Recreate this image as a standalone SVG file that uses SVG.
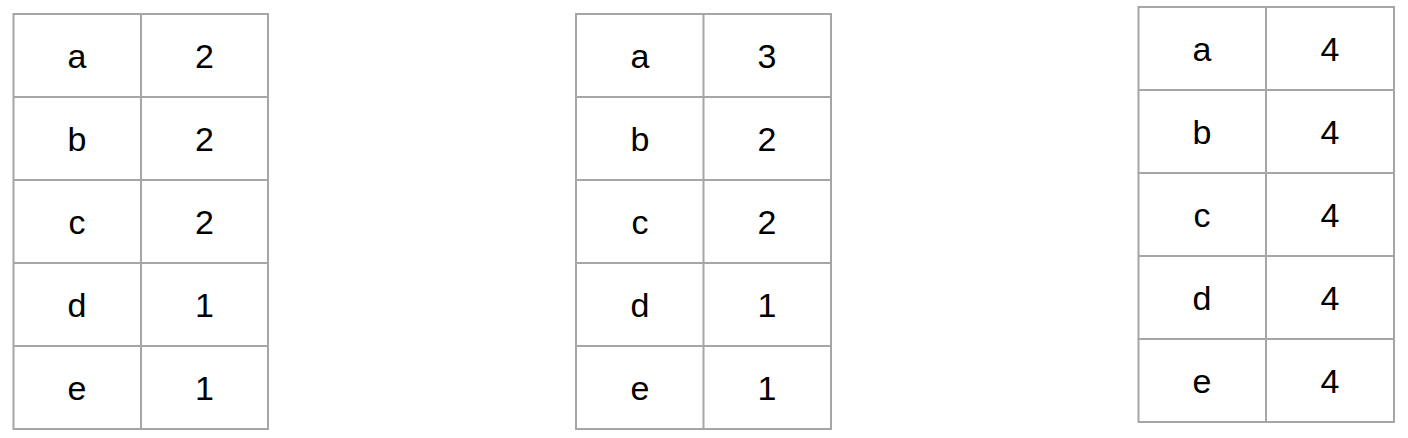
<svg xmlns="http://www.w3.org/2000/svg" width="1408" height="438" viewBox="0 0 1408 438">
<style>
.g{fill:#ffffff;stroke:#a6a6a6;stroke-width:2}
.l{stroke:#a6a6a6;stroke-width:2}
text{font-family:"Liberation Sans",Arial,sans-serif;font-size:34px;fill:#000000;text-anchor:middle}
</style>
<rect width="1408" height="438" fill="#ffffff"/>
<g id="table1">
<rect class="g" x="13.5" y="14" width="254.5" height="415"/>
<line class="l" x1="141" y1="14" x2="141" y2="429"/>
<line class="l" x1="13.5" y1="97" x2="268" y2="97"/>
<line class="l" x1="13.5" y1="180" x2="268" y2="180"/>
<line class="l" x1="13.5" y1="263" x2="268" y2="263"/>
<line class="l" x1="13.5" y1="346" x2="268" y2="346"/>
<text x="77" y="68">a</text><text x="204.5" y="68">2</text>
<text x="77" y="151">b</text><text x="204.5" y="151">2</text>
<text x="77" y="234">c</text><text x="204.5" y="234">2</text>
<text x="77" y="317">d</text><text x="204.5" y="317">1</text>
<text x="77" y="400">e</text><text x="204.5" y="400">1</text>
</g>
<g id="table2">
<rect class="g" x="576" y="14" width="255" height="415"/>
<line class="l" x1="703.5" y1="14" x2="703.5" y2="429"/>
<line class="l" x1="576" y1="97" x2="831" y2="97"/>
<line class="l" x1="576" y1="180" x2="831" y2="180"/>
<line class="l" x1="576" y1="263" x2="831" y2="263"/>
<line class="l" x1="576" y1="346" x2="831" y2="346"/>
<text x="640" y="68">a</text><text x="767" y="68">3</text>
<text x="640" y="151">b</text><text x="767" y="151">2</text>
<text x="640" y="234">c</text><text x="767" y="234">2</text>
<text x="640" y="317">d</text><text x="767" y="317">1</text>
<text x="640" y="400">e</text><text x="767" y="400">1</text>
</g>
<g id="table3">
<rect class="g" x="1138.5" y="7" width="255.5" height="415"/>
<line class="l" x1="1266" y1="7" x2="1266" y2="422"/>
<line class="l" x1="1138.5" y1="90" x2="1394" y2="90"/>
<line class="l" x1="1138.5" y1="173" x2="1394" y2="173"/>
<line class="l" x1="1138.5" y1="256" x2="1394" y2="256"/>
<line class="l" x1="1138.5" y1="339" x2="1394" y2="339"/>
<text x="1202" y="61">a</text><text x="1330" y="61">4</text>
<text x="1202" y="144">b</text><text x="1330" y="144">4</text>
<text x="1202" y="227">c</text><text x="1330" y="227">4</text>
<text x="1202" y="310">d</text><text x="1330" y="310">4</text>
<text x="1202" y="393">e</text><text x="1330" y="393">4</text>
</g>
</svg>
